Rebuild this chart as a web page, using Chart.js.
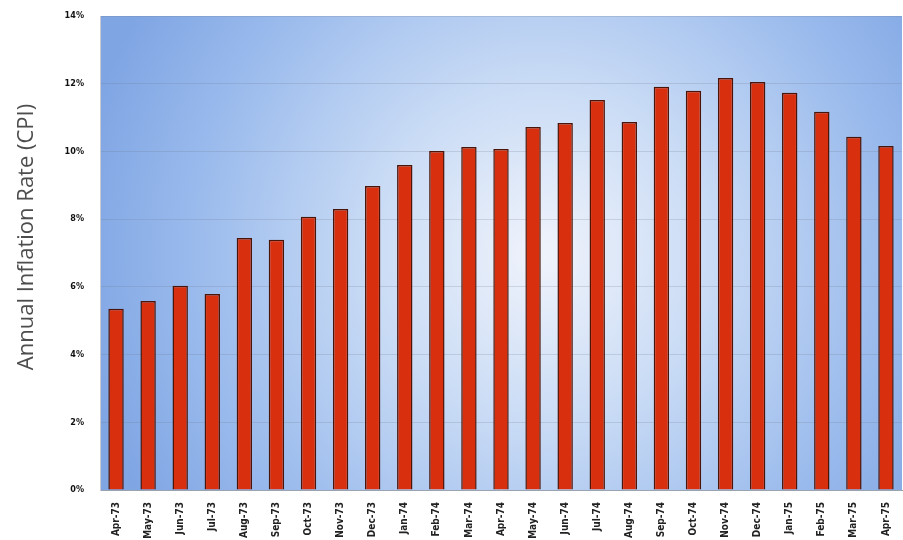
<!DOCTYPE html>
<html>
<head>
<meta charset="utf-8">
<script src="https://cdn.jsdelivr.net/npm/chart.js@4.4.0/dist/chart.umd.min.js"></script>
<style>
  html, body { margin: 0; padding: 0; background: #fff; overflow: hidden; }
  #cpi { display: block; }
</style>
</head>
<body>
<canvas id="cpi" width="903" height="540"></canvas>
<script>
// months on the x axis
const months = ['Apr-73','May-73','Jun-73','Jul-73','Aug-73','Sep-73','Oct-73','Nov-73','Dec-73',
    'Jan-74','Feb-74','Mar-74','Apr-74','May-74','Jun-74','Jul-74','Aug-74','Sep-74','Oct-74',
    'Nov-74','Dec-74','Jan-75','Feb-75','Mar-75','Apr-75']

// annual CPI inflation, percent
const inflation = [5.35, 5.58, 6.03, 5.79, 7.44, 7.39, 8.07, 8.30, 8.98,
    9.60, 10.01, 10.13, 10.07, 10.72, 10.84, 11.52, 10.87, 11.91, 11.79,
    12.17, 12.05, 11.73, 11.17, 10.43, 10.16]

const yTicks = [0, 2, 4, 6, 8, 10, 12, 14]
const yTitle = 'Annual Inflation Rate (CPI)'

const plotBackground = {
    id: 'plotBackground',
    beforeDraw(chart) {
        const { ctx, chartArea: a } = chart
        const cx = a.left + (a.right - a.left) * 0.55
        const cy = a.top + (a.bottom - a.top) * 0.5
        const g = ctx.createRadialGradient(cx, cy, 10, cx, cy, 470)
        g.addColorStop(0, '#eef2fb')
        g.addColorStop(0.35, '#c9dbf5')
        g.addColorStop(0.75, '#98b9ec')
        g.addColorStop(1, '#7fa5e3')
        ctx.save()
        ctx.fillStyle = g
        ctx.fillRect(a.left, a.top, a.right - a.left, a.bottom - a.top)
        ctx.restore()
    },
    // axis title sits a bit above the plot centre in the original
    afterDraw(chart) {
        const ctx = chart.ctx
        ctx.save()
        ctx.translate(27, 237)
        ctx.rotate(-Math.PI / 2)
        ctx.fillStyle = '#4d4d4d'
        ctx.font = '22px "Open Sans", sans-serif'
        ctx.textAlign = 'center'
        ctx.textBaseline = 'middle'
        ctx.fillText(yTitle, 0, 0)
        ctx.restore()
    }
}

new Chart(document.getElementById('cpi'), {
    type: 'bar',
    data: {
        labels: months,
        datasets: [{
            data: inflation,
            backgroundColor: '#d8300f',
            borderColor: '#4a1408',
            borderWidth: 1.5,
            barPercentage: 0.48,
            categoryPercentage: 1
        }]
    },
    options: {
        responsive: false,
        animation: false,
        devicePixelRatio: 1,
        layout: { padding: { top: 16, right: 1, left: 0, bottom: 0 } },
        plugins: {
            legend: { display: false },
            tooltip: { enabled: false }
        },
        scales: {
            x: {
                grid: { display: false },
                border: { color: '#9aa4b0' },
                ticks: {
                    maxRotation: 90,
                    minRotation: 90,
                    autoSkip: false,
                    padding: 4,
                    color: '#222',
                    font: { family: 'Liberation Sans Narrow, DejaVu Sans Condensed, sans-serif', size: 10, weight: 'bold' }
                },
                afterFit(scale) {
                    scale.height = 50
                    scale.paddingLeft = 0
                    scale.paddingRight = 0
                }
            },
            y: {
                min: 0,
                max: 14,
                afterBuildTicks(scale) { scale.ticks = yTicks.map(v => ({ value: v })) },
                grid: { color: 'rgba(110,120,135,0.22)', drawTicks: false },
                border: { color: '#c8ccd2' },
                ticks: {
                    autoSkip: false,
                    padding: 16,
                    color: '#111',
                    font: { family: 'Liberation Sans Narrow, DejaVu Sans Condensed, sans-serif', size: 9, weight: 'bold' },
                    callback: (v) => v + '%'
                },
                afterFit(scale) {
                    scale.width = 100
                    scale.paddingTop = 0
                    scale.paddingBottom = 0
                }
            }
        }
    },
    plugins: [plotBackground]
})
</script>
</body>
</html>
